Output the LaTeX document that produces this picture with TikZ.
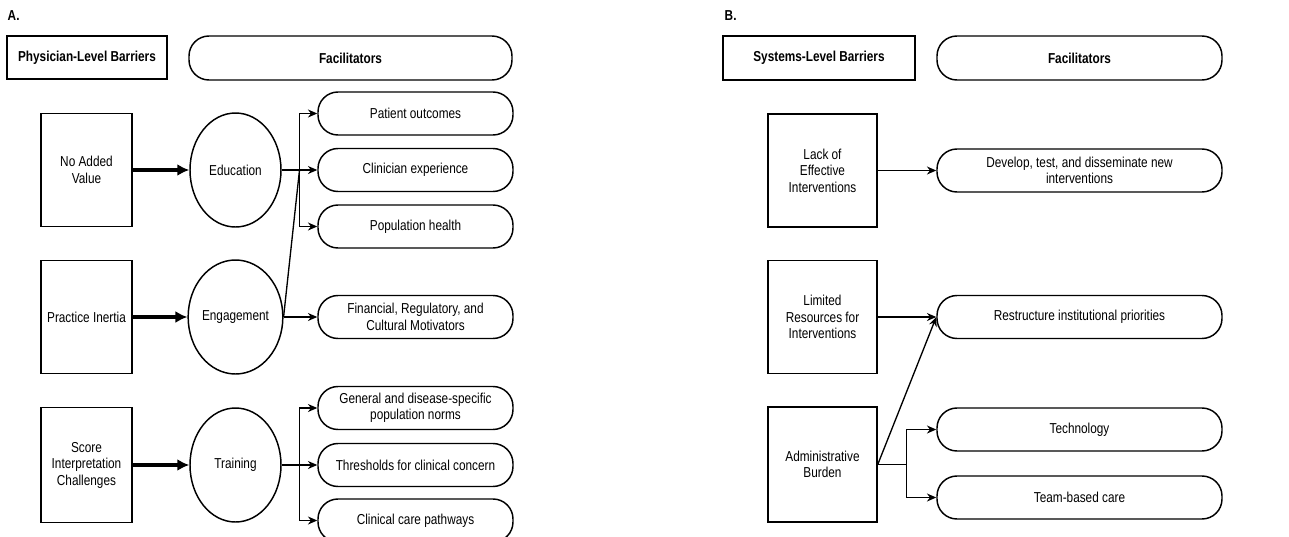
\documentclass[tikz,border=0pt]{standalone}
\usepackage{fontspec}
\setmainfont{Liberation Sans}[FakeStretch=0.82]
\usetikzlibrary{arrows.meta,shapes.geometric}
\def\u{0.75pt}
\tikzset{
  every node/.style={font=\fontsize{10.8}{12.4}\selectfont, align=center, inner sep=0pt, line width=1.1pt},
  pill/.style={draw, rectangle, rounded corners=15pt, minimum width=#1*\u, minimum height=43*\u},
  circ/.style={draw, ellipse, minimum width=91*\u, minimum height=114*\u},
  hdr/.style={font=\fontsize{10.8}{12.4}\selectfont\bfseries},
  thin/.style={line width=1pt, -{Stealth[length=7pt,width=6pt]}},
  thinline/.style={line width=1pt},
  thickarr/.style={line width=2.8pt, -{Latex[length=9pt,width=9pt]}},
}
\begin{document}
\begin{tikzpicture}[x=0.75pt,y=-0.75pt]
\useasboundingbox (0,0) rectangle (1289,536);
% ---------- Panel A ----------
\node[hdr, anchor=west] (labA) at (7,16) {A.};
\node[hdr, draw, minimum width=160*\u, minimum height=43*\u] (hA1) at (87,57.5) {Physician-Level Barriers};
\node[hdr, draw, rounded corners=15pt, minimum width=323*\u, minimum height=44*\u] (hA2) at (350.5,58) {Facilitators};

\node[draw, minimum width=91*\u, minimum height=113*\u] (nav) at (86.5,170) {No Added\\Value};
\node[circ] (edu) at (235.5,170) {Education};
\node[pill=195] (po) at (415.5,113.5) {Patient outcomes};
\node[pill=195] (ce) at (415.5,170) {Clinician experience};
\node[pill=195] (ph) at (415.5,226.5) {Population health};

\node[draw, minimum width=91*\u, minimum height=113*\u] (pi) at (86.5,317) {Practice Inertia};
\node[circ] (eng) at (235.5,317) {Engagement};
\node[pill=195] (fin) at (415.5,317) {Financial, Regulatory, and\\Cultural Motivators};

\node[draw, minimum width=91*\u, minimum height=115*\u] (sic) at (86.5,465) {Score\\Interpretation\\Challenges};
\node[circ] (tr) at (235.5,465) {Training};
\node[pill=195] (gen) at (415.5,408) {General and disease-specific\\population norms};
\node[pill=195] (thr) at (415.5,465) {Thresholds for clinical concern};
\node[pill=195] (ccp) at (415.5,520.5) {Clinical care pathways};

\coordinate (jA1) at (299.5,170);
\coordinate (jA3) at (299.5,465);

\draw[thickarr] (nav.east) -- (edu.west);
\draw[thickarr] (pi.east) -- (eng.west);
\draw[thickarr] (sic.east) -- (tr.west);

\draw[thinline] (edu.east) -- (jA1);
\draw[thin] (jA1) |- (po.west);
\draw[thin] (jA1) -- (ce.west);
\draw[thin] (jA1) |- (ph.west);
\draw[thinline] (eng.east) -- (jA1);
\draw[thin] (eng.east) -- (fin.west);

\draw[thinline] (tr.east) -- (jA3);
\draw[thin] (jA3) |- (gen.west);
\draw[thin] (jA3) -- (thr.west);
\draw[thin] (jA3) |- (ccp.west);

% ---------- Panel B ----------
\node[hdr, anchor=west] (labB) at (724,16) {B.};
\node[hdr, draw, minimum width=192*\u, minimum height=44*\u] (hB1) at (819,58) {Systems-Level Barriers};
\node[hdr, draw, rounded corners=15pt, minimum width=285*\u, minimum height=44*\u] (hB2) at (1079.5,58) {Facilitators};

\node[draw, minimum width=109*\u, minimum height=113*\u] (lei) at (822.5,170.5) {Lack of\\Effective\\Interventions};
\node[pill=285] (dev) at (1079.5,170.5) {Develop, test, and disseminate new\\interventions};

\node[draw, minimum width=109*\u, minimum height=113*\u] (lri) at (822.5,317) {Limited\\Resources for\\Interventions};
\node[pill=285] (rip) at (1079.5,317) {Restructure institutional priorities};

\node[draw, minimum width=109*\u, minimum height=115*\u] (ab) at (822.5,464.5) {Administrative\\Burden};
\node[pill=285] (tech) at (1079.5,429.5) {Technology};
\node[pill=285] (team) at (1079.5,497.5) {Team-based care};

\coordinate (jB) at (906.5,464.5);

\draw[thin] (lei.east) -- (dev.west);
\draw[thin] (lri.east) -- (rip.west);
\draw[thin] (ab.east) -- (rip.west);
\draw[thinline] (ab.east) -- (jB);
\draw[thin] (jB) |- (tech.west);
\draw[thin] (jB) |- (team.west);
\end{tikzpicture}
\end{document}
